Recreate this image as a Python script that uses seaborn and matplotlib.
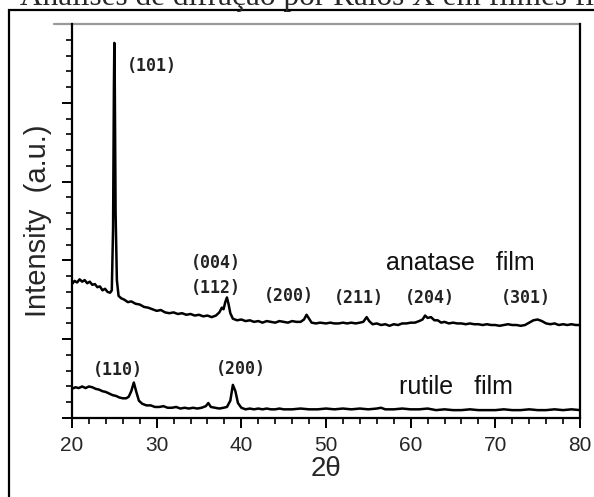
import matplotlib
matplotlib.use("Agg")
from matplotlib import pyplot as plt
from matplotlib.patches import Rectangle
from matplotlib.ticker import MultipleLocator
import seaborn as sns
import pandas as pd

# anatase film trace (2theta, intensity a.u.)
anatase_2theta = [20.0, 20.3, 20.6, 20.9, 21.2, 21.5, 21.8, 22.1, 22.4, 22.7, 23.0, 23.3, 23.6, 23.9,
                  24.2, 24.5, 24.7, 24.85, 24.95, 25.0, 25.05, 25.15, 25.3, 25.5, 25.8, 26.2, 26.6,
                  27.0, 27.5, 28.0, 28.5, 29.0, 29.5, 30.0, 30.5, 31.0, 31.5, 32.0, 32.5, 33.0, 33.5,
                  34.0, 34.5, 35.0, 35.5, 36.0, 36.5, 37.0, 37.4, 37.7, 37.9, 38.1, 38.3, 38.5, 38.7,
                  39.0, 39.5, 40.0, 40.5, 41.0, 41.5, 42.0, 42.5, 43.0, 43.5, 44.0, 44.5, 45.0, 45.5,
                  46.0, 46.5, 47.0, 47.4, 47.7, 48.0, 48.3, 48.8, 49.3, 50.0, 50.5, 51.0, 51.5, 52.0,
                  52.5, 53.0, 53.5, 54.0, 54.4, 54.8, 55.1, 55.5, 56.0, 56.5, 57.0, 57.5, 58.0, 58.5,
                  59.0, 59.5, 60.0, 60.5, 61.0, 61.4, 61.7, 62.0, 62.4, 62.8, 63.2, 63.6, 64.0, 64.5,
                  65.0, 65.5, 66.0, 66.5, 67.0, 67.5, 68.0, 68.5, 69.0, 69.5, 70.0, 70.5, 71.0, 71.5,
                  72.0, 72.5, 73.0, 73.5, 74.0, 74.5, 75.0, 75.5, 76.0, 76.5, 77.0, 77.5, 78.0, 78.5,
                  79.0, 79.5, 80.0]
anatase_int = [1.70, 1.74, 1.72, 1.76, 1.73, 1.75, 1.71, 1.73, 1.69, 1.70, 1.66, 1.67, 1.62, 1.64,
               1.60, 1.59, 1.62, 2.40, 4.20, 4.76, 4.30, 2.60, 1.75, 1.55, 1.52, 1.50, 1.47,
               1.48, 1.45, 1.44, 1.41, 1.40, 1.38, 1.36, 1.37, 1.34, 1.33, 1.34, 1.32, 1.33, 1.31,
               1.32, 1.30, 1.31, 1.29, 1.30, 1.28, 1.30, 1.34, 1.40, 1.38, 1.47, 1.53, 1.44, 1.33,
               1.26, 1.24, 1.25, 1.23, 1.24, 1.22, 1.23, 1.21, 1.23, 1.22, 1.21, 1.23, 1.22, 1.21,
               1.23, 1.22, 1.22, 1.25, 1.31, 1.26, 1.21, 1.20, 1.21, 1.20, 1.21, 1.20, 1.20, 1.21,
               1.20, 1.21, 1.20, 1.21, 1.22, 1.28, 1.23, 1.19, 1.20, 1.18, 1.19, 1.17, 1.19, 1.18,
               1.20, 1.20, 1.21, 1.21, 1.23, 1.25, 1.30, 1.27, 1.28, 1.24, 1.24, 1.21, 1.22, 1.20,
               1.21, 1.20, 1.20, 1.19, 1.20, 1.19, 1.19, 1.18, 1.19, 1.18, 1.18, 1.17, 1.18, 1.19,
               1.18, 1.18, 1.17, 1.18, 1.21, 1.24, 1.25, 1.23, 1.20, 1.19, 1.20, 1.18, 1.19, 1.18,
               1.19, 1.18, 1.18]

# rutile film trace
rutile_2theta = [20.0, 20.4, 20.8, 21.2, 21.6, 22.0, 22.4, 22.8, 23.2, 23.6, 24.0, 24.4, 24.8, 25.2,
                 25.6, 26.0, 26.4, 26.7, 27.0, 27.3, 27.6, 27.9, 28.3, 28.8, 29.3, 29.8, 30.3, 30.8,
                 31.3, 31.8, 32.3, 32.8, 33.3, 33.8, 34.3, 34.8, 35.3, 35.8, 36.1, 36.4, 36.9, 37.4,
                 37.9, 38.3, 38.7, 39.0, 39.3, 39.6, 40.0, 40.5, 41.0, 41.5, 42.0, 42.5, 43.0, 43.5,
                 44.0, 44.5, 45.0, 46.0, 47.0, 48.0, 49.0, 50.0, 51.0, 52.0, 53.0, 54.0, 55.0, 56.0,
                 56.5, 57.0, 58.0, 59.0, 60.0, 61.0, 62.0, 63.0, 64.0, 65.0, 66.0, 67.0, 68.0, 69.0,
                 70.0, 71.0, 72.0, 73.0, 74.0, 75.0, 76.0, 77.0, 78.0, 79.0, 80.0]
rutile_int = [0.37, 0.39, 0.38, 0.40, 0.38, 0.40, 0.39, 0.37, 0.36, 0.34, 0.33, 0.31, 0.29, 0.28,
              0.26, 0.25, 0.25, 0.27, 0.34, 0.45, 0.33, 0.22, 0.18, 0.16, 0.16, 0.14, 0.14, 0.15,
              0.13, 0.13, 0.14, 0.12, 0.13, 0.12, 0.13, 0.12, 0.13, 0.15, 0.19, 0.14, 0.13, 0.12,
              0.13, 0.14, 0.22, 0.42, 0.34, 0.19, 0.13, 0.11, 0.12, 0.11, 0.12, 0.11, 0.12, 0.11,
              0.11, 0.12, 0.11, 0.11, 0.12, 0.11, 0.11, 0.12, 0.11, 0.12, 0.11, 0.12, 0.11, 0.12,
              0.13, 0.11, 0.11, 0.12, 0.11, 0.11, 0.12, 0.10, 0.11, 0.10, 0.10, 0.11, 0.10, 0.10,
              0.10, 0.11, 0.10, 0.10, 0.11, 0.10, 0.10, 0.11, 0.10, 0.11, 0.10]

# reflection labels (text, 2theta, intensity)
peak_labels = ["(101)", "(004)", "(112)", "(200)", "(211)", "(204)", "(301)", "(110)", "(200)"]
peak_x = [29.45, 37.0, 37.0, 45.6, 53.9, 62.3, 73.6, 25.4, 40.0]
peak_y = [4.47, 1.97, 1.65, 1.55, 1.52, 1.52, 1.52, 0.61, 0.62]

film_labels = ["anatase   film", "rutile   film"]
film_x = [65.9, 65.35]
film_y = [1.97, 0.39]

sns.set_style("ticks")
plt.rcParams['font.family'] = ['Liberation Sans', 'DejaVu Sans']

fig = plt.figure(figsize=(5.94, 4.97), dpi=100)
ax = fig.add_axes([72/594, 1 - 418/497, (580 - 72)/594, (418 - 24)/497])

# outer frame and clipped caption above it
fig.patches.append(Rectangle((9/594, -0.1), 1.2, 1.1 - 10/497, transform=fig.transFigure,
                             fill=False, lw=1.6, edgecolor='black'))
fig.text(20/594, 1 - 5/497, "Análises de difração por Raios X em filmes finos de TiO2",
         family='Liberation Serif', fontsize=22.5, va='baseline', ha='left')

df_a = pd.DataFrame({'two_theta': anatase_2theta, 'intensity': anatase_int})
df_r = pd.DataFrame({'two_theta': rutile_2theta, 'intensity': rutile_int})
sns.lineplot(data=df_a, x='two_theta', y='intensity', ax=ax, color='black', lw=1.8, estimator=None)
sns.lineplot(data=df_r, x='two_theta', y='intensity', ax=ax, color='black', lw=1.8, estimator=None)

for lab, x, y in zip(peak_labels, peak_x, peak_y):
    ax.text(x, y, lab, family='DejaVu Sans Mono', fontweight='bold', fontsize=12,
            ha='center', va='center', color='#222222')
for lab, x, y in zip(film_labels, film_x, film_y):
    ax.text(x, y, lab, fontsize=18, ha='center', va='center', color='#111111')

ax.set_xlim(20, 80)
ax.set_ylim(0, 5)
ax.xaxis.set_major_locator(MultipleLocator(10))
ax.xaxis.set_minor_locator(MultipleLocator(2))
ax.yaxis.set_major_locator(MultipleLocator(1))
ax.yaxis.set_minor_locator(MultipleLocator(0.2))
ax.tick_params(axis='both', which='major', direction='out', length=7, width=1.4, color='black')
ax.tick_params(axis='both', which='minor', direction='out', length=4, width=1.2, color='black')
ax.tick_params(axis='x', labelsize=15, pad=6)
ax.set_yticklabels([])

ax.set_xlabel("2θ", fontsize=20, labelpad=1)
ax.set_ylabel("Intensity  (a.u.)", fontsize=21, labelpad=4)

for side in ['left', 'bottom', 'right']:
    ax.spines[side].set_linewidth(1.6)
    ax.spines[side].set_color('black')
ax.spines['top'].set_visible(False)
ax.plot([-0.035, 1], [1, 1], transform=ax.transAxes, clip_on=False, color='#999999', lw=1.6)

fig.savefig("out.png", dpi=100)
